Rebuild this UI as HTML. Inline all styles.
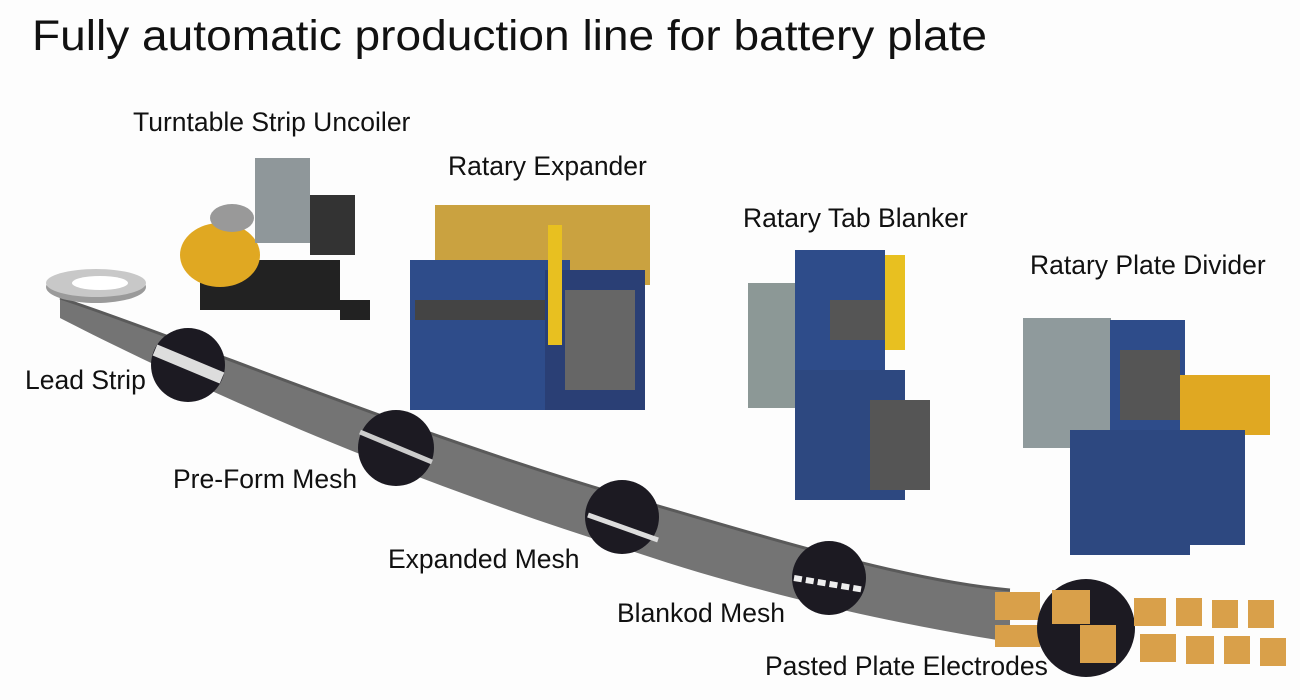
<!DOCTYPE html>
<html><head><meta charset="utf-8"><style>
html,body{margin:0;padding:0;background:#fff;}
svg{display:block;}
text{font-family:"Liberation Sans",sans-serif;fill:#111;}
</style></head><body>
<svg width="1300" height="700" viewBox="0 0 1300 700" xmlns="http://www.w3.org/2000/svg">
<rect width="1300" height="700" fill="#fdfdfd"/>
<text x="32" y="50" font-size="43" textLength="955" lengthAdjust="spacingAndGlyphs">Fully automatic production line for battery plate</text>

<path d="M60,298 C200,345 400,430 620,495 C760,535 900,580 1010,590 L1010,642 C900,625 760,595 620,547 C400,478 200,390 60,318 Z" fill="#747474"/>
<path d="M60,298 C200,345 400,430 620,495 C760,535 900,580 1010,590" fill="none" stroke="#5a5a5a" stroke-width="3"/>
<ellipse cx="96" cy="287" rx="50" ry="16" fill="#9a9a9a"/>
<ellipse cx="96" cy="283" rx="50" ry="14" fill="#c8c8c8"/>
<ellipse cx="100" cy="283" rx="28" ry="7" fill="#fff"/>
<rect x="995" y="592" width="45" height="28" fill="#d9a04a"/>
<rect x="995" y="625" width="45" height="22" fill="#d9a04a"/>
<circle cx="188" cy="365" r="37" fill="#1c1a22"/>
<path d="M155,350 L222,378" stroke="#ddd" stroke-width="12"/>
<circle cx="396" cy="448" r="38" fill="#1c1a22"/>
<path d="M360,432 L432,462" stroke="#ccc" stroke-width="5"/>
<circle cx="622" cy="517" r="37" fill="#1c1a22"/>
<path d="M588,515 L658,540" stroke="#ddd" stroke-width="5"/>
<circle cx="829" cy="578" r="37" fill="#1c1a22"/>
<path d="M794,578 L865,590" stroke="#eee" stroke-width="6" stroke-dasharray="8 4"/>
<circle cx="1086" cy="628" r="49" fill="#1c1a22"/>
<rect x="1052" y="590" width="38" height="34" fill="#d9a04a"/>
<rect x="1080" y="625" width="36" height="38" fill="#d9a04a"/>
<g fill="#d9a04a">
<rect x="1134" y="598" width="32" height="28"/><rect x="1176" y="598" width="26" height="28"/><rect x="1212" y="600" width="26" height="28"/><rect x="1248" y="600" width="26" height="28"/>
<rect x="1140" y="634" width="36" height="28"/><rect x="1186" y="636" width="28" height="28"/><rect x="1224" y="636" width="26" height="28"/><rect x="1260" y="638" width="26" height="28"/>
</g>

<rect x="200" y="260" width="140" height="50" fill="#222"/>
<ellipse cx="220" cy="255" rx="40" ry="32" fill="#e0a822"/>
<ellipse cx="232" cy="218" rx="22" ry="14" fill="#999"/>
<rect x="255" y="158" width="55" height="85" fill="#8f979a"/>
<rect x="310" y="195" width="45" height="60" fill="#333"/>
<rect x="340" y="300" width="30" height="20" fill="#222"/>
<rect x="435" y="205" width="215" height="80" fill="#caa240"/>
<rect x="410" y="260" width="160" height="150" fill="#2e4c8a"/>
<rect x="545" y="270" width="100" height="140" fill="#2a3f75"/>
<rect x="548" y="225" width="14" height="120" fill="#e8c020"/>
<rect x="565" y="290" width="70" height="100" fill="#666"/>
<rect x="415" y="300" width="130" height="20" fill="#444"/>
<rect x="748" y="283" width="80" height="125" fill="#8c9896"/>
<rect x="795" y="250" width="90" height="120" fill="#2e4c8a"/>
<rect x="885" y="255" width="20" height="95" fill="#e8c020"/>
<rect x="795" y="370" width="110" height="130" fill="#2d4880"/>
<rect x="830" y="300" width="55" height="40" fill="#555"/>
<rect x="870" y="400" width="60" height="90" fill="#555"/>
<rect x="1023" y="318" width="88" height="130" fill="#8f9a9c"/>
<rect x="1110" y="320" width="75" height="120" fill="#2e4c8a"/>
<rect x="1120" y="350" width="60" height="70" fill="#555"/>
<rect x="1180" y="375" width="90" height="60" fill="#e0a822"/>
<rect x="1070" y="430" width="120" height="125" fill="#2d4880"/>
<rect x="1190" y="430" width="55" height="115" fill="#2d4880"/>

<g font-size="26.5">
<text x="133" y="131">Turntable Strip Uncoiler</text>
<text x="448" y="175">Ratary Expander</text>
<text x="743" y="227">Ratary Tab Blanker</text>
<text x="1030" y="274">Ratary Plate Divider</text>
<text x="25" y="389">Lead Strip</text>
<text x="173" y="488">Pre-Form Mesh</text>
<text x="388" y="568">Expanded Mesh</text>
<text x="617" y="622">Blankod Mesh</text>
<text x="765" y="675">Pasted Plate Electrodes</text>
</g>
</svg>
</body></html>
